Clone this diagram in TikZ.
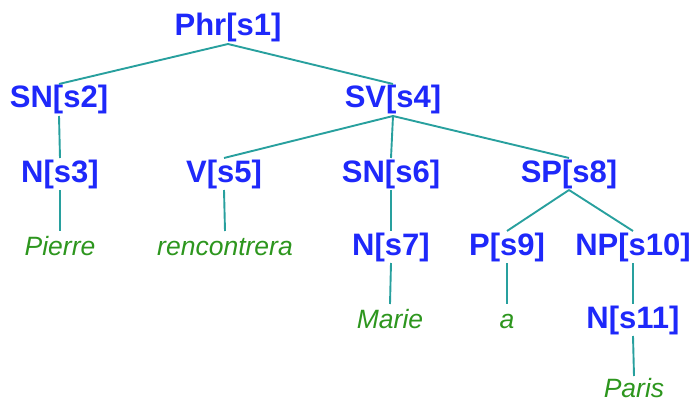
\documentclass[tikz,border=0pt]{standalone}
\usepackage{fontspec}
\setmainfont{Liberation Sans}
\definecolor{nodeblue}{RGB}{30,40,250}
\definecolor{leafgreen}{RGB}{45,150,30}
\definecolor{edgeteal}{RGB}{40,160,158}
\begin{document}
\begin{tikzpicture}[x=1pt,y=-1pt,
  cat/.style={anchor=base, inner sep=0pt, text=nodeblue, font=\fontsize{31}{31}\selectfont\bfseries},
  leaf/.style={anchor=base, inner sep=0pt, text=leafgreen, font=\fontsize{26.5}{26.5}\selectfont\itshape},
  edge/.style={draw=edgeteal, line width=1.9pt}]
\useasboundingbox (0,0) rectangle (693,401);
\node[cat] (s1) at (228,36) {Phr[s1]};
\node[cat] (s2) at (59,108) {SN[s2]};
\node[cat] (s4) at (393,108) {SV[s4]};
\node[cat] (s3) at (60,182) {N[s3]};
\node[cat] (s5) at (224,182) {V[s5]};
\node[cat] (s6) at (391,182) {SN[s6]};
\node[cat] (s8) at (569,182) {SP[s8]};
\node[leaf] (w1) at (60,255) {Pierre};
\node[leaf] (w2) at (225,255) {rencontrera};
\node[cat] (s7) at (391,255) {N[s7]};
\node[cat] (s9) at (507,255) {P[s9]};
\node[cat] (s10) at (633,255) {NP[s10]};
\node[leaf] (w3) at (390,328) {Marie};
\node[leaf] (w4) at (507,328) {a};
\node[cat] (s11) at (633,328) {N[s11]};
\node[leaf] (w5) at (634,397) {Paris};
\foreach \p/\c in {s1/s2, s1/s4, s2/s3, s4/s5, s4/s6, s4/s8, s3/w1, s5/w2, s6/s7, s8/s9, s8/s10, s7/w3, s9/w4, s10/s11}
  \draw[edge] ([yshift=-8pt]\p.base) -- ([yshift=24pt]\c.base);
\draw[edge] ([yshift=-8pt]s11.base) -- ([yshift=21pt]w5.base);
\end{tikzpicture}
\end{document}
